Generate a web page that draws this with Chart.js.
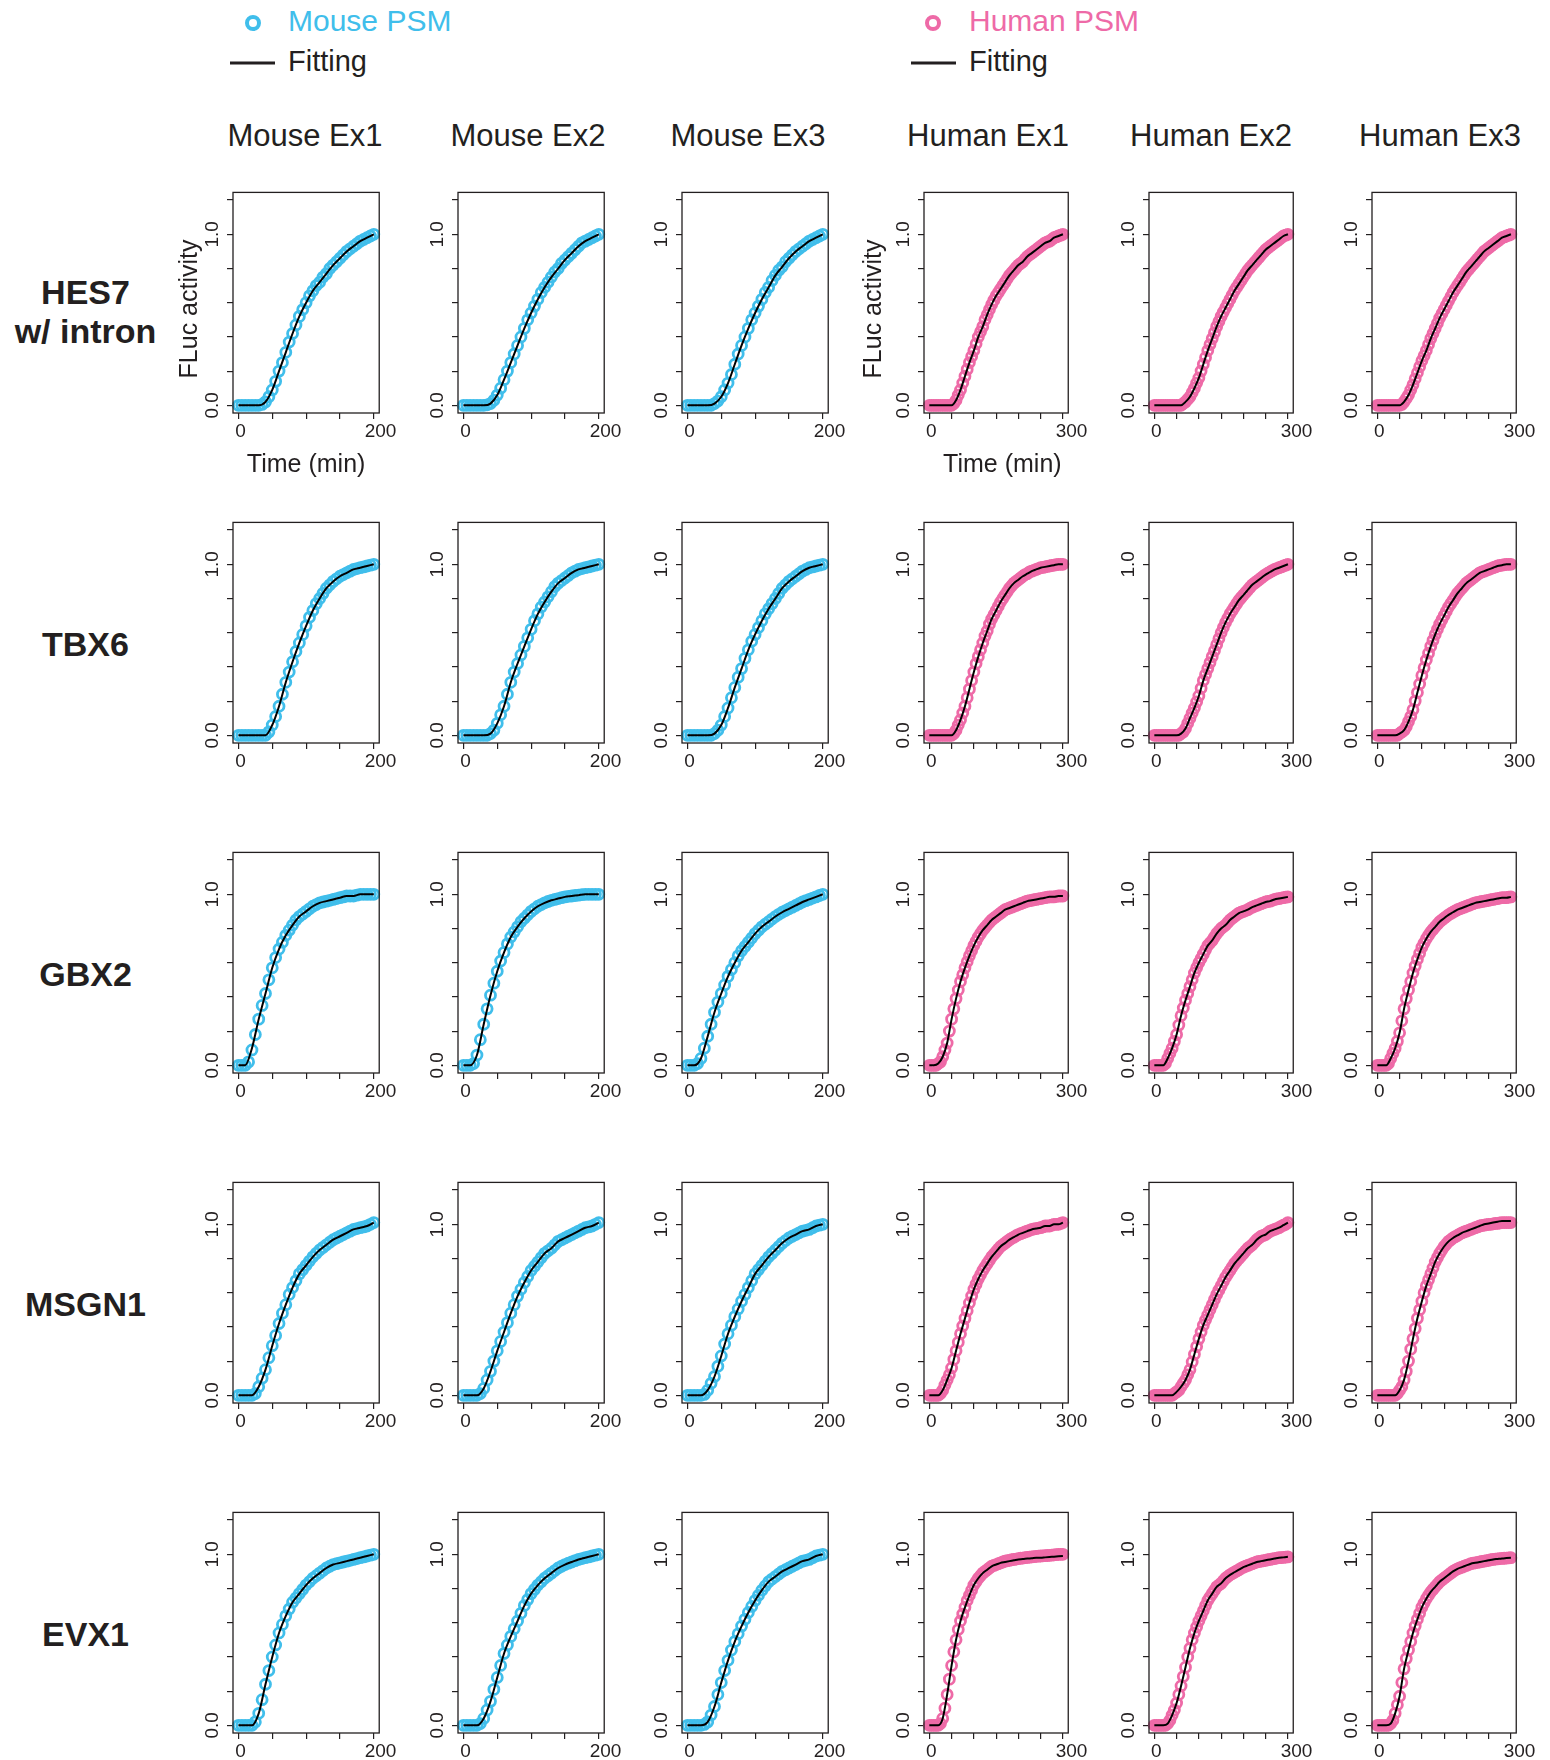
<!DOCTYPE html>
<html>
<head>
<meta charset="utf-8">
<title>FLuc activity time courses</title>
<script src="https://cdn.jsdelivr.net/npm/chart.js@4.4.1/dist/chart.umd.min.js"></script>
<style>
  html, body { margin: 0; padding: 0; background: #ffffff; }
  #page { position: relative; width: 1550px; height: 1760px; overflow: hidden;
          font-family: "Liberation Sans", Arial, Helvetica, sans-serif; color: #231f20; }
  .txt { position: absolute; white-space: nowrap; line-height: 1; }
  .ctr { transform: translate(-50%, -50%); }
  .head { font-size: 31px; }
  .row { font-size: 34px; font-weight: bold; }
  .leg { font-size: 30px; }
  .legfit { font-size: 29px; color: #231f20; }
  canvas.panel { position: absolute; }
  svg.mark { position: absolute; overflow: visible; }
</style>
</head>
<body>
<div id="page"></div>
<script>
// ---- time grids (minutes) ----
const MOUSE_T5 = [0,5,10,15,20,25,30,35,40,45,50,55,60,65,70,75,80,85,90,95,100,105,110,115,120,125,130,135,140,145,150,155,160,165,170,175,180,185,190,195,200];
const HUMAN_T5 = [0,5,10,15,20,25,30,35,40,45,50,55,60,65,70,75,80,85,90,95,100,105,110,115,120,125,130,135,140,145,150,155,160,165,170,175,180,185,190,195,200,205,210,215,220,225,230,235,240,245,250,255,260,265,270,275,280,285,290,295,300];
const MOUSE_T10 = [0,10,20,30,40,50,60,70,80,90,100,110,120,130,140,150,160,170,180,190,200];
const HUMAN_T10 = [0,10,20,30,40,50,60,70,80,90,100,110,120,130,140,150,160,170,180,190,200,210,220,230,240,250,260,270,280,290,300];

// ---- labels ----
const COLUMN_TITLES = ['Mouse Ex1','Mouse Ex2','Mouse Ex3','Human Ex1','Human Ex2','Human Ex3'];
const ROW_TITLES = [['HES7','w/ intron'],['TBX6'],['GBX2'],['MSGN1'],['EVX1']];
const Y_TICKS = [0,0.2,0.4,0.6,0.8,1.0,1.2];
const Y_TICK_TEXT = ['0.0','','','','','1.0',''];
const MOUSE_X_TICKS = [0,50,100,150,200];
const MOUSE_X_TICK_TEXT = ['0','','','','\u2002200'];
const HUMAN_X_TICKS = [0,50,100,150,200,250,300];
const HUMAN_X_TICK_TEXT = ['0','','','','','','\u2002\u2009300'];
const X_TITLE = 'Time (min)';
const Y_TITLE = 'FLuc activity';

// ---- HES7 w/ intron ----
const HES7_MOUSE_FIT = [
  [0,0,0,0,0.02,0.09,0.2,0.31,0.42,0.52,0.6,0.67,0.72,0.77,0.82,0.86,0.9,0.93,0.96,0.98,1.0],
  [0,0,0,0,0.01,0.06,0.15,0.25,0.35,0.45,0.54,0.62,0.69,0.75,0.8,0.85,0.89,0.93,0.96,0.98,1.0],
  [0,0,0,0,0.01,0.05,0.13,0.24,0.35,0.45,0.54,0.62,0.69,0.76,0.81,0.86,0.9,0.93,0.96,0.98,1.0]
];
const HES7_MOUSE_PTS = [
  [0,0,0,0,0,0,0,0.005,0.02,0.05,0.09,0.14,0.2,0.25,0.31,0.37,0.42,0.47,0.52,0.56,0.6,0.64,0.67,0.7,0.72,0.75,0.77,0.8,0.82,0.84,0.86,0.88,0.9,0.915,0.93,0.945,0.96,0.97,0.98,0.99,1.0],
  [0,0,0,0,0,0,0,0.003,0.01,0.03,0.06,0.1,0.15,0.2,0.25,0.3,0.35,0.4,0.45,0.5,0.54,0.58,0.62,0.66,0.69,0.72,0.75,0.78,0.8,0.83,0.85,0.87,0.89,0.91,0.93,0.95,0.96,0.97,0.98,0.99,1.0],
  [0,0,0,0,0,0,0,0,0.01,0.025,0.05,0.09,0.13,0.18,0.24,0.3,0.35,0.4,0.45,0.5,0.54,0.58,0.62,0.66,0.69,0.73,0.76,0.79,0.81,0.84,0.86,0.88,0.9,0.915,0.93,0.945,0.96,0.97,0.98,0.99,1.0]
];
const HES7_HUMAN_FIT = [
  [0,0,0,0,0,0,0.03,0.09,0.17,0.25,0.32,0.4,0.46,0.53,0.59,0.64,0.68,0.72,0.76,0.79,0.82,0.84,0.87,0.89,0.91,0.93,0.95,0.96,0.98,0.99,1.0],
  [0,0,0,0,0,0,0,0.02,0.05,0.1,0.16,0.24,0.32,0.39,0.46,0.52,0.57,0.62,0.67,0.71,0.75,0.79,0.82,0.85,0.88,0.91,0.93,0.95,0.97,0.99,1.0],
  [0,0,0,0,0,0,0.02,0.06,0.12,0.19,0.26,0.32,0.39,0.45,0.51,0.56,0.61,0.66,0.7,0.74,0.78,0.81,0.84,0.87,0.9,0.92,0.94,0.96,0.98,0.99,1.0]
];
const HES7_HUMAN_PTS = [
  [0,0,0,0,0,0,0,0,0,0,0,0.01,0.03,0.06,0.09,0.13,0.17,0.21,0.25,0.285,0.32,0.36,0.4,0.43,0.46,0.5,0.53,0.56,0.59,0.615,0.64,0.66,0.68,0.7,0.72,0.74,0.76,0.775,0.79,0.805,0.82,0.83,0.84,0.855,0.87,0.88,0.89,0.9,0.91,0.92,0.93,0.94,0.95,0.955,0.96,0.97,0.98,0.985,0.99,0.995,1.0],
  [0,0,0,0,0,0,0,0,0,0,0,0,0,0.01,0.02,0.035,0.05,0.075,0.1,0.13,0.16,0.2,0.24,0.28,0.32,0.355,0.39,0.425,0.46,0.49,0.52,0.545,0.57,0.595,0.62,0.645,0.67,0.69,0.71,0.73,0.75,0.77,0.79,0.805,0.82,0.835,0.85,0.865,0.88,0.895,0.91,0.92,0.93,0.94,0.95,0.96,0.97,0.98,0.99,0.995,1.0],
  [0,0,0,0,0,0,0,0,0,0,0,0.005,0.02,0.04,0.06,0.09,0.12,0.155,0.19,0.225,0.26,0.29,0.32,0.355,0.39,0.42,0.45,0.48,0.51,0.535,0.56,0.585,0.61,0.635,0.66,0.68,0.7,0.72,0.74,0.76,0.78,0.795,0.81,0.825,0.84,0.855,0.87,0.885,0.9,0.91,0.92,0.93,0.94,0.95,0.96,0.97,0.98,0.985,0.99,0.995,1.0]
];

// ---- TBX6 ----
const TBX6_MOUSE_FIT = [
  [0,0,0,0,0,0.06,0.17,0.31,0.43,0.54,0.64,0.73,0.8,0.86,0.9,0.93,0.95,0.97,0.98,0.99,1.0],
  [0,0,0,0,0.01,0.07,0.17,0.31,0.42,0.52,0.62,0.71,0.78,0.84,0.89,0.92,0.95,0.97,0.98,0.99,1.0],
  [0,0,0,0,0.01,0.06,0.16,0.28,0.39,0.5,0.59,0.67,0.74,0.8,0.86,0.9,0.93,0.96,0.98,0.99,1.0]
];
const TBX6_MOUSE_PTS = [
  [0,0,0,0,0,0,0,0,0,0.02,0.06,0.11,0.17,0.24,0.31,0.37,0.43,0.49,0.54,0.59,0.64,0.69,0.73,0.77,0.8,0.83,0.86,0.88,0.9,0.915,0.93,0.94,0.95,0.96,0.97,0.975,0.98,0.985,0.99,0.995,1.0],
  [0,0,0,0,0,0,0,0,0.01,0.03,0.07,0.12,0.17,0.24,0.31,0.37,0.42,0.47,0.52,0.57,0.62,0.67,0.71,0.75,0.78,0.81,0.84,0.87,0.89,0.905,0.92,0.935,0.95,0.96,0.97,0.975,0.98,0.985,0.99,0.995,1.0],
  [0,0,0,0,0,0,0,0,0.01,0.03,0.06,0.11,0.16,0.22,0.28,0.34,0.39,0.45,0.5,0.55,0.59,0.63,0.67,0.71,0.74,0.77,0.8,0.83,0.86,0.88,0.9,0.915,0.93,0.945,0.96,0.97,0.98,0.985,0.99,0.995,1.0]
];
const TBX6_HUMAN_FIT = [
  [0,0,0,0,0,0,0.03,0.09,0.17,0.27,0.37,0.46,0.54,0.61,0.68,0.73,0.78,0.82,0.86,0.89,0.91,0.93,0.945,0.96,0.97,0.98,0.985,0.99,0.995,1.0,1.0],
  [0,0,0,0,0,0,0.01,0.04,0.1,0.16,0.23,0.32,0.39,0.46,0.53,0.6,0.66,0.71,0.75,0.79,0.82,0.85,0.88,0.9,0.92,0.94,0.955,0.97,0.98,0.99,1.0],
  [0,0,0,0,0,0.01,0.03,0.08,0.15,0.25,0.35,0.44,0.52,0.59,0.65,0.7,0.75,0.79,0.83,0.86,0.89,0.91,0.93,0.95,0.96,0.97,0.98,0.99,0.995,1.0,1.0]
];
const TBX6_HUMAN_PTS = [
  [0,0,0,0,0,0,0,0,0,0,0,0.01,0.03,0.06,0.09,0.13,0.17,0.22,0.27,0.32,0.37,0.42,0.46,0.5,0.54,0.58,0.61,0.65,0.68,0.705,0.73,0.755,0.78,0.8,0.82,0.84,0.86,0.875,0.89,0.9,0.91,0.92,0.93,0.94,0.945,0.955,0.96,0.965,0.97,0.975,0.98,0.982,0.985,0.988,0.99,0.993,0.995,0.998,1.0,1.0,1.0],
  [0,0,0,0,0,0,0,0,0,0,0,0,0.01,0.02,0.04,0.07,0.1,0.13,0.16,0.195,0.23,0.275,0.32,0.355,0.39,0.425,0.46,0.495,0.53,0.565,0.6,0.63,0.66,0.685,0.71,0.73,0.75,0.77,0.79,0.805,0.82,0.835,0.85,0.865,0.88,0.89,0.9,0.91,0.92,0.93,0.94,0.948,0.955,0.963,0.97,0.975,0.98,0.985,0.99,0.995,1.0],
  [0,0,0,0,0,0,0,0,0,0,0.01,0.02,0.03,0.05,0.08,0.11,0.15,0.2,0.25,0.3,0.35,0.395,0.44,0.48,0.52,0.555,0.59,0.62,0.65,0.675,0.7,0.725,0.75,0.77,0.79,0.81,0.83,0.845,0.86,0.875,0.89,0.9,0.91,0.92,0.93,0.94,0.95,0.955,0.96,0.965,0.97,0.975,0.98,0.985,0.99,0.993,0.995,0.998,1.0,1.0,1.0]
];

// ---- GBX2 ----
const GBX2_MOUSE_FIT = [
  [0,0,0.1,0.27,0.42,0.57,0.68,0.76,0.82,0.87,0.9,0.93,0.95,0.96,0.97,0.98,0.99,0.99,1.0,1.0,1.0],
  [0,0,0.06,0.24,0.41,0.55,0.66,0.75,0.81,0.86,0.9,0.93,0.95,0.965,0.975,0.985,0.99,0.995,1.0,1.0,1.0],
  [0,0,0.04,0.17,0.31,0.42,0.52,0.6,0.67,0.72,0.77,0.81,0.84,0.87,0.895,0.915,0.935,0.955,0.97,0.985,1.0]
];
const GBX2_MOUSE_PTS = [
  [0,0,0,0.02,0.09,0.18,0.27,0.35,0.42,0.5,0.57,0.63,0.68,0.72,0.76,0.79,0.82,0.85,0.87,0.885,0.9,0.915,0.93,0.94,0.95,0.955,0.96,0.965,0.97,0.975,0.98,0.985,0.99,0.99,0.99,0.995,1.0,1.0,1.0,1.0,1.0],
  [0,0,0,0.01,0.06,0.15,0.24,0.33,0.41,0.48,0.55,0.61,0.66,0.71,0.75,0.78,0.81,0.84,0.86,0.88,0.9,0.915,0.93,0.94,0.95,0.958,0.965,0.97,0.975,0.98,0.985,0.988,0.99,0.993,0.995,0.998,1.0,1.0,1.0,1.0,1.0],
  [0,0,0,0.01,0.04,0.1,0.17,0.24,0.31,0.37,0.42,0.47,0.52,0.56,0.6,0.64,0.67,0.695,0.72,0.745,0.77,0.79,0.81,0.825,0.84,0.855,0.87,0.883,0.895,0.905,0.915,0.925,0.935,0.945,0.955,0.963,0.97,0.978,0.985,0.993,1.0]
];
const GBX2_HUMAN_FIT = [
  [0,0,0.01,0.05,0.13,0.27,0.39,0.49,0.57,0.64,0.7,0.75,0.79,0.82,0.85,0.87,0.89,0.91,0.92,0.93,0.94,0.95,0.96,0.965,0.97,0.975,0.98,0.985,0.985,0.99,0.99],
  [0,0,0,0.04,0.1,0.18,0.29,0.38,0.46,0.54,0.6,0.65,0.7,0.73,0.77,0.8,0.82,0.85,0.87,0.89,0.9,0.91,0.925,0.935,0.945,0.955,0.96,0.97,0.975,0.98,0.985],
  [0,0,0,0.04,0.1,0.19,0.33,0.44,0.54,0.62,0.69,0.74,0.78,0.81,0.84,0.86,0.88,0.895,0.91,0.92,0.93,0.94,0.95,0.955,0.96,0.965,0.97,0.975,0.98,0.98,0.985]
];
const GBX2_HUMAN_PTS = [
  [0,0,0,0,0.01,0.02,0.05,0.09,0.13,0.2,0.27,0.33,0.39,0.44,0.49,0.53,0.57,0.605,0.64,0.67,0.7,0.725,0.75,0.77,0.79,0.805,0.82,0.835,0.85,0.86,0.87,0.88,0.89,0.9,0.91,0.915,0.92,0.925,0.93,0.935,0.94,0.945,0.95,0.955,0.96,0.963,0.965,0.968,0.97,0.973,0.975,0.978,0.98,0.983,0.985,0.985,0.985,0.988,0.99,0.99,0.99],
  [0,0,0,0,0,0.01,0.04,0.07,0.1,0.14,0.18,0.235,0.29,0.335,0.38,0.42,0.46,0.5,0.54,0.57,0.6,0.625,0.65,0.675,0.7,0.715,0.73,0.75,0.77,0.785,0.8,0.81,0.82,0.835,0.85,0.86,0.87,0.88,0.89,0.895,0.9,0.905,0.91,0.918,0.925,0.93,0.935,0.94,0.945,0.95,0.955,0.958,0.96,0.965,0.97,0.973,0.975,0.978,0.98,0.983,0.985],
  [0,0,0,0,0,0.01,0.04,0.07,0.1,0.14,0.19,0.26,0.33,0.39,0.44,0.49,0.54,0.58,0.62,0.655,0.69,0.715,0.74,0.76,0.78,0.795,0.81,0.825,0.84,0.85,0.86,0.87,0.88,0.888,0.895,0.903,0.91,0.915,0.92,0.925,0.93,0.935,0.94,0.945,0.95,0.953,0.955,0.958,0.96,0.963,0.965,0.968,0.97,0.973,0.975,0.978,0.98,0.98,0.98,0.983,0.985]
];

// ---- MSGN1 ----
const MSGN1_MOUSE_FIT = [
  [0,0,0,0.05,0.15,0.29,0.42,0.53,0.63,0.71,0.76,0.81,0.85,0.88,0.91,0.93,0.95,0.97,0.98,0.99,1.01],
  [0,0,0,0.04,0.14,0.26,0.37,0.48,0.58,0.66,0.73,0.78,0.83,0.86,0.9,0.92,0.94,0.96,0.98,0.99,1.01],
  [0,0,0,0.03,0.11,0.23,0.36,0.46,0.55,0.63,0.71,0.76,0.81,0.85,0.89,0.92,0.94,0.96,0.97,0.99,1.0]
];
const MSGN1_MOUSE_PTS = [
  [0,0,0,0,0,0.01,0.05,0.1,0.15,0.22,0.29,0.35,0.42,0.48,0.53,0.59,0.63,0.67,0.71,0.735,0.76,0.785,0.81,0.83,0.85,0.865,0.88,0.895,0.91,0.92,0.93,0.94,0.95,0.96,0.97,0.975,0.98,0.985,0.99,1.0,1.01],
  [0,0,0,0,0,0.01,0.04,0.09,0.14,0.2,0.26,0.315,0.37,0.425,0.48,0.53,0.58,0.62,0.66,0.695,0.73,0.755,0.78,0.805,0.83,0.845,0.86,0.88,0.9,0.91,0.92,0.93,0.94,0.95,0.96,0.97,0.98,0.985,0.99,1.0,1.01],
  [0,0,0,0,0,0.005,0.03,0.07,0.11,0.17,0.23,0.3,0.36,0.41,0.46,0.505,0.55,0.59,0.63,0.67,0.71,0.735,0.76,0.785,0.81,0.83,0.85,0.87,0.89,0.905,0.92,0.93,0.94,0.95,0.96,0.965,0.97,0.98,0.99,0.995,1.0]
];
const MSGN1_HUMAN_FIT = [
  [0,0,0,0.03,0.09,0.16,0.26,0.36,0.45,0.54,0.62,0.68,0.73,0.77,0.81,0.84,0.87,0.89,0.91,0.925,0.94,0.95,0.96,0.97,0.975,0.98,0.99,0.99,1.0,1.0,1.01],
  [0,0,0,0,0,0.02,0.05,0.09,0.15,0.24,0.33,0.41,0.47,0.53,0.59,0.64,0.69,0.73,0.77,0.8,0.83,0.86,0.88,0.91,0.93,0.94,0.96,0.97,0.98,0.995,1.01],
  [0,0,0,0,0,0.03,0.09,0.2,0.33,0.45,0.55,0.64,0.71,0.78,0.83,0.87,0.9,0.92,0.935,0.95,0.96,0.97,0.98,0.99,1.0,1.005,1.01,1.015,1.02,1.02,1.02]
];
const MSGN1_HUMAN_PTS = [
  [0,0,0,0,0,0.01,0.03,0.06,0.09,0.12,0.16,0.21,0.26,0.31,0.36,0.405,0.45,0.495,0.54,0.58,0.62,0.65,0.68,0.705,0.73,0.75,0.77,0.79,0.81,0.825,0.84,0.855,0.87,0.88,0.89,0.9,0.91,0.918,0.925,0.933,0.94,0.945,0.95,0.955,0.96,0.965,0.97,0.973,0.975,0.978,0.98,0.985,0.99,0.99,0.99,0.995,1.0,1.0,1.0,1.005,1.01],
  [0,0,0,0,0,0,0,0,0,0.01,0.02,0.03,0.05,0.07,0.09,0.12,0.15,0.195,0.24,0.285,0.33,0.37,0.41,0.44,0.47,0.5,0.53,0.56,0.59,0.615,0.64,0.665,0.69,0.71,0.73,0.75,0.77,0.785,0.8,0.815,0.83,0.845,0.86,0.87,0.88,0.895,0.91,0.92,0.93,0.935,0.94,0.95,0.96,0.965,0.97,0.975,0.98,0.988,0.995,1.0,1.01],
  [0,0,0,0,0,0,0,0,0,0.01,0.03,0.05,0.09,0.14,0.2,0.27,0.33,0.39,0.45,0.5,0.55,0.6,0.64,0.675,0.71,0.745,0.78,0.805,0.83,0.85,0.87,0.885,0.9,0.91,0.92,0.928,0.935,0.943,0.95,0.955,0.96,0.965,0.97,0.975,0.98,0.985,0.99,0.993,0.995,0.998,1.0,1.0,1.003,1.005,1.005,1.008,1.01,1.01,1.01,1.01,1.01]
];

// ---- EVX1 ----
const EVX1_MOUSE_FIT = [
  [0,0,0,0.07,0.24,0.4,0.54,0.64,0.72,0.77,0.82,0.86,0.89,0.92,0.94,0.95,0.96,0.97,0.98,0.99,1.0],
  [0,0,0,0.04,0.14,0.28,0.42,0.52,0.61,0.7,0.77,0.82,0.86,0.89,0.92,0.94,0.955,0.97,0.98,0.99,1.0],
  [0,0,0,0.02,0.11,0.25,0.38,0.49,0.58,0.66,0.73,0.79,0.84,0.87,0.9,0.92,0.94,0.96,0.97,0.99,1.0]
];
const EVX1_MOUSE_PTS = [
  [0,0,0,0,0,0.02,0.07,0.15,0.24,0.32,0.4,0.47,0.54,0.59,0.64,0.68,0.72,0.745,0.77,0.795,0.82,0.84,0.86,0.875,0.89,0.905,0.92,0.93,0.94,0.945,0.95,0.955,0.96,0.965,0.97,0.975,0.98,0.985,0.99,0.995,1.0],
  [0,0,0,0,0,0.01,0.04,0.09,0.14,0.21,0.28,0.35,0.42,0.47,0.52,0.565,0.61,0.655,0.7,0.735,0.77,0.795,0.82,0.84,0.86,0.875,0.89,0.905,0.92,0.93,0.94,0.948,0.955,0.963,0.97,0.975,0.98,0.985,0.99,0.995,1.0],
  [0,0,0,0,0,0.005,0.02,0.06,0.11,0.18,0.25,0.32,0.38,0.44,0.49,0.535,0.58,0.62,0.66,0.695,0.73,0.76,0.79,0.815,0.84,0.855,0.87,0.885,0.9,0.91,0.92,0.93,0.94,0.95,0.96,0.965,0.97,0.98,0.99,0.995,1.0]
];
const EVX1_HUMAN_FIT = [
  [0,0,0,0.04,0.18,0.35,0.5,0.61,0.69,0.76,0.82,0.86,0.89,0.91,0.93,0.94,0.95,0.955,0.96,0.965,0.97,0.972,0.975,0.977,0.98,0.98,0.982,0.984,0.986,0.988,0.99],
  [0,0,0,0.01,0.06,0.13,0.23,0.34,0.45,0.54,0.61,0.67,0.73,0.77,0.81,0.83,0.86,0.88,0.895,0.91,0.925,0.935,0.945,0.955,0.96,0.965,0.97,0.975,0.98,0.982,0.985],
  [0,0,0,0.01,0.07,0.17,0.33,0.44,0.54,0.62,0.69,0.74,0.78,0.81,0.84,0.86,0.88,0.9,0.915,0.925,0.935,0.945,0.95,0.955,0.96,0.965,0.97,0.973,0.976,0.978,0.98]
];
const EVX1_HUMAN_PTS = [
  [0,0,0,0,0,0.01,0.04,0.1,0.18,0.27,0.35,0.43,0.5,0.56,0.61,0.65,0.69,0.73,0.76,0.79,0.82,0.84,0.86,0.875,0.89,0.9,0.91,0.92,0.93,0.935,0.94,0.945,0.95,0.955,0.96,0.963,0.965,0.968,0.97,0.972,0.975,0.977,0.978,0.98,0.982,0.983,0.985,0.986,0.988,0.989,0.99,0.991,0.992,0.993,0.994,0.995,0.997,0.998,1.0,1.0,1.0],
  [0,0,0,0,0,0,0.01,0.03,0.06,0.09,0.13,0.18,0.23,0.285,0.34,0.4,0.45,0.5,0.54,0.575,0.61,0.64,0.67,0.7,0.73,0.75,0.77,0.79,0.81,0.82,0.83,0.845,0.86,0.87,0.88,0.888,0.895,0.903,0.91,0.918,0.925,0.93,0.935,0.94,0.945,0.95,0.955,0.958,0.96,0.963,0.965,0.968,0.97,0.973,0.975,0.978,0.98,0.981,0.982,0.984,0.985],
  [0,0,0,0,0,0,0.01,0.03,0.07,0.12,0.17,0.25,0.33,0.39,0.44,0.49,0.54,0.58,0.62,0.655,0.69,0.715,0.74,0.76,0.78,0.795,0.81,0.825,0.84,0.85,0.86,0.87,0.88,0.89,0.9,0.908,0.915,0.92,0.925,0.93,0.935,0.94,0.945,0.948,0.95,0.953,0.955,0.958,0.96,0.963,0.965,0.968,0.97,0.972,0.973,0.975,0.976,0.977,0.978,0.979,0.98]
];

// ---- styling / layout ----
const MOUSE_COLOR = '#40BEEB';
const HUMAN_COLOR = '#EE6AA7';
const INK = '#231f20';
const FONT = '"Liberation Sans", Arial, Helvetica, sans-serif';

const COL_LEFT = [233, 458, 682, 924, 1149, 1372];
const ROW_TOP = [192, 522, 852, 1182, 1512];
const BOX_W = 147;
const BOX_H = 221;
const PAD_TOP = 12;
const PAD_RIGHT = 16;

const GENES = [
  { mouseFit: HES7_MOUSE_FIT, mousePts: HES7_MOUSE_PTS, humanFit: HES7_HUMAN_FIT, humanPts: HES7_HUMAN_PTS },
  { mouseFit: TBX6_MOUSE_FIT, mousePts: TBX6_MOUSE_PTS, humanFit: TBX6_HUMAN_FIT, humanPts: TBX6_HUMAN_PTS },
  { mouseFit: GBX2_MOUSE_FIT, mousePts: GBX2_MOUSE_PTS, humanFit: GBX2_HUMAN_FIT, humanPts: GBX2_HUMAN_PTS },
  { mouseFit: MSGN1_MOUSE_FIT, mousePts: MSGN1_MOUSE_PTS, humanFit: MSGN1_HUMAN_FIT, humanPts: MSGN1_HUMAN_PTS },
  { mouseFit: EVX1_MOUSE_FIT, mousePts: EVX1_MOUSE_PTS, humanFit: EVX1_HUMAN_FIT, humanPts: EVX1_HUMAN_PTS }
];

const page = document.getElementById('page');

function addText(cls, text, x, y, extraStyle) {
  const d = document.createElement('div');
  d.className = 'txt ' + cls;
  d.textContent = text;
  d.style.left = x + 'px';
  d.style.top = y + 'px';
  if (extraStyle) Object.assign(d.style, extraStyle);
  page.appendChild(d);
  return d;
}

// legends
function addLegend(cx, lineX0, lineX1, textX, color, name) {
  const ns = 'http://www.w3.org/2000/svg';
  const s1 = document.createElementNS(ns, 'svg');
  s1.setAttribute('class', 'mark');
  s1.setAttribute('width', '22'); s1.setAttribute('height', '22');
  s1.style.left = (cx - 11) + 'px'; s1.style.top = (22.5 - 11) + 'px';
  const c = document.createElementNS(ns, 'circle');
  c.setAttribute('cx', '11'); c.setAttribute('cy', '11'); c.setAttribute('r', '6');
  c.setAttribute('fill', 'none'); c.setAttribute('stroke', color); c.setAttribute('stroke-width', '4');
  s1.appendChild(c); page.appendChild(s1);

  const s2 = document.createElementNS(ns, 'svg');
  s2.setAttribute('class', 'mark');
  s2.setAttribute('width', String(lineX1 - lineX0)); s2.setAttribute('height', '6');
  s2.style.left = lineX0 + 'px'; s2.style.top = (63 - 3) + 'px';
  const l = document.createElementNS(ns, 'line');
  l.setAttribute('x1', '0'); l.setAttribute('x2', String(lineX1 - lineX0));
  l.setAttribute('y1', '3'); l.setAttribute('y2', '3');
  l.setAttribute('stroke', INK); l.setAttribute('stroke-width', '2.8');
  s2.appendChild(l); page.appendChild(s2);

  addText('leg', name, textX, 21 - 15, { color: color });
  addText('legfit', 'Fitting', textX, 61 - 14.5);
}
addLegend(252.5, 230, 275, 288, MOUSE_COLOR, 'Mouse PSM');
addLegend(933, 911, 956, 969, HUMAN_COLOR, 'Human PSM');

// column headers
const HEAD_X = [305, 528, 748, 988, 1211, 1440];
COLUMN_TITLES.forEach((t, i) => addText('head ctr', t, HEAD_X[i], 135));

// row labels
ROW_TITLES.forEach((lines, r) => {
  const mid = ROW_TOP[r] + (lines.length > 1 ? 119.5 : 122);
  const step = 39;
  lines.forEach((ln, k) => {
    const y = mid + (k - (lines.length - 1) / 2) * step;
    addText('row ctr', ln, 85.5, y);
  });
});

// frame around each plotting region
const framePlugin = {
  id: 'frame',
  afterDatasetsDraw(chart) {
    const { ctx, chartArea: a } = chart;
    ctx.save();
    ctx.strokeStyle = INK;
    ctx.lineWidth = 1.3;
    ctx.strokeRect(a.left, a.top, a.right - a.left, a.bottom - a.top);
    ctx.restore();
  }
};

function makePanel(r, c) {
  const human = c >= 3;
  const e = c % 3;
  const gene = GENES[r];
  const fit = human ? gene.humanFit[e] : gene.mouseFit[e];
  const pts = human ? gene.humanPts[e] : gene.mousePts[e];
  const fitT = human ? HUMAN_T10 : MOUSE_T10;
  const ptsT = human ? HUMAN_T5 : MOUSE_T5;
  const color = human ? HUMAN_COLOR : MOUSE_COLOR;
  const xTicks = human ? HUMAN_X_TICKS : MOUSE_X_TICKS;
  const xText = human ? HUMAN_X_TICK_TEXT : MOUSE_X_TICK_TEXT;
  const xMax = human ? 300 : 200;
  const titled = r === 0 && (c === 0 || c === 3);
  const yW = titled ? (c === 0 ? 55 : 62) : 60;
  const xH = titled ? 65 : 40;

  const canvas = document.createElement('canvas');
  canvas.className = 'panel';
  const w = yW + BOX_W + PAD_RIGHT;
  const h = PAD_TOP + BOX_H + xH;
  canvas.width = w; canvas.height = h;
  canvas.style.width = w + 'px'; canvas.style.height = h + 'px';
  canvas.style.left = (COL_LEFT[c] - yW) + 'px';
  canvas.style.top = (ROW_TOP[r] - PAD_TOP) + 'px';
  page.appendChild(canvas);

  const tickFont = { family: FONT, size: 19 };
  const titleFont = { family: FONT, size: 25, lineHeight: 1 };

  new Chart(canvas, {
    type: 'line',
    data: {
      datasets: [
        {
          label: 'Fitting',
          data: fitT.map((t, i) => ({ x: t, y: fit[i] })),
          borderColor: '#000000',
          borderWidth: 2,
          pointRadius: 0,
          fill: false,
          cubicInterpolationMode: 'monotone',
          order: 0
        },
        {
          label: human ? 'Human PSM' : 'Mouse PSM',
          data: ptsT.map((t, i) => ({ x: t, y: pts[i] })),
          showLine: false,
          pointStyle: 'circle',
          pointRadius: 5,
          pointBorderWidth: 2.8,
          pointBorderColor: color,
          pointBackgroundColor: 'rgba(0,0,0,0)',
          clip: false,
          order: 1
        }
      ]
    },
    options: {
      responsive: false,
      animation: false,
      events: [],
      layout: { padding: { top: PAD_TOP, right: PAD_RIGHT, left: 0, bottom: 0 } },
      plugins: { legend: { display: false }, tooltip: { enabled: false } },
      scales: {
        x: {
          type: 'linear',
          min: -0.04 * xMax,
          max: 1.04 * xMax,
          afterBuildTicks: s => { s.ticks = xTicks.map(v => ({ value: v })); },
          afterFit: s => { s.height = xH; },
          ticks: {
            autoSkip: false, minRotation: 0, maxRotation: 0, padding: 1, labelOffset: 2,
            color: INK, font: tickFont,
            callback: (v, i) => xText[i]
          },
          grid: { drawOnChartArea: false, drawTicks: true, tickLength: 6, color: INK, lineWidth: 1.2 },
          border: { display: false },
          title: { display: titled, text: (c === 3 ? '\u2002' : '') + X_TITLE, color: INK, font: titleFont, padding: 0 }
        },
        y: {
          type: 'linear',
          min: -0.045,
          max: 1.245,
          afterBuildTicks: s => { s.ticks = Y_TICKS.map(v => ({ value: v })); },
          afterFit: s => { s.width = yW; },
          ticks: {
            autoSkip: false, minRotation: 90, maxRotation: 90, crossAlign: 'center', padding: 1,
            color: INK, font: tickFont,
            callback: (v, i) => Y_TICK_TEXT[i]
          },
          grid: { drawOnChartArea: false, drawTicks: true, tickLength: 6, color: INK, lineWidth: 1.2 },
          border: { display: false },
          title: { display: titled, text: Y_TITLE + '\u2002', color: INK, font: titleFont, padding: 0 }
        }
      }
    },
    plugins: [framePlugin]
  });
}

for (let r = 0; r < ROW_TOP.length; r++) {
  for (let c = 0; c < COL_LEFT.length; c++) makePanel(r, c);
}
</script>
</body>
</html>
